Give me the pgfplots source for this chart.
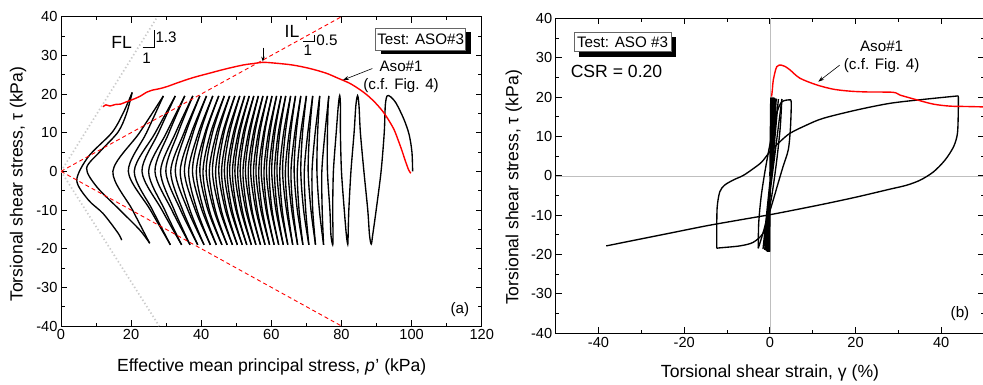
\documentclass[border=0pt]{standalone}
\usepackage{pgfplots}
\pgfplotsset{compat=1.18}
\usepackage{fontspec}
\setmainfont{Liberation Sans}
\usetikzlibrary{shadows,arrows.meta}
\newcommand\tkf{\fontsize{14.6}{16}\selectfont}
\newcommand\lbf{\fontsize{17.6}{20}\selectfont}
\newcommand\anf{\fontsize{15.2}{17}\selectfont}
\begin{document}
\begin{tikzpicture}
\path[use as bounding box] (0pt,0pt) rectangle (983pt,384pt);
\pgfplotsset{
  myax/.style={scale only axis, anchor=south west,
    ymin=-40, ymax=40, ytick={-40,-30,...,40},
    minor x tick num=1, minor y tick num=1,
    major tick length=6pt, minor tick length=3.5pt,
    every tick/.style={black, line width=0.9pt},
    axis line style={line width=1pt},
    tick label style={font=\tkf},
    /pgf/number format/assume math mode=true},
  lp/.style={black, line width=1.35pt, smooth},
}
% ---------------- Panel (a)
\begin{axis}[myax, at={(61pt,58pt)}, width=420.7pt, height=309.3pt,
  xmin=0, xmax=120, xtick={0,20,...,120}]
\addplot[gray!40, line width=1.7pt, dash pattern=on 1.4pt off 2.4pt] coordinates {(0,0) (27.5,40)};
\addplot[gray!40, line width=1.7pt, dash pattern=on 1.4pt off 2.4pt] coordinates {(0,0) (28,-40)};
\addplot[lp] coordinates {(100.3,0) (100.1,5) (99.3,9.5) (97.8,13.5) (95.6,17.6) (94.0,19.3) (93.0,19.5) (92.5,17) (92.2,10) (91.3,0) (89.9,-10) (88.9,-16.5) (88.5,-18.8) (88.0,-16.5) (87.5,-10) (86.4,0) (85.4,10) (85.0,17) (84.6,19.6) (84.1,17) (83.6,10) (82.7,0) (82.1,-10) (81.9,-16.5) (81.8,-18.9) (81.4,-16.5) (80.8,-10) (80.0,0) (79.7,10) (79.7,17) (79.5,19.6) (79.1,17) (78.5,10) (77.7,0) (77.5,-10) (77.6,-16.5) (77.5,-19) (77.0,-16.5) (76.7,-10) (76.0,0) (76.0,10) (76.2,17) (76.4,19.5)};
\addplot[lp] coordinates {(76.4,19.5) (75.3,10) (74.4,0) (74.5,-10) (74.9,-19)};
\addplot[lp] coordinates {(74.9,-19) (73.7,-10) (73.0,0) (73.2,10) (73.8,19.5)};
\addplot[lp] coordinates {(73.8,19.5) (72.5,10) (71.6,0) (71.8,-10) (72.6,-19)};
\addplot[lp] coordinates {(72.6,-19) (71.3,-10) (70.5,0) (70.9,10) (71.8,19.5)};
\addplot[lp] coordinates {(71.8,19.5) (70.4,10) (69.4,0) (69.8,-10) (70.7,-19)};
\addplot[lp] coordinates {(70.7,-19) (69.2,-10) (68.4,0) (68.9,10) (70.0,19.5)};
\addplot[lp] coordinates {(70.0,19.5) (68.4,10) (67.4,0) (67.9,-10) (69.0,-19)};
\addplot[lp] coordinates {(69.0,-19) (67.4,-10) (66.5,0) (67.1,10) (68.4,19.5)};
\addplot[lp] coordinates {(68.4,19.5) (66.7,10) (65.6,0) (66.2,-10) (67.5,-19)};
\addplot[lp] coordinates {(67.5,-19) (65.8,-10) (64.8,0) (65.5,10) (66.9,19.5)};
\addplot[lp] coordinates {(66.9,19.5) (65.1,10) (64.0,0) (64.7,-10) (66.1,-19)};
\addplot[lp] coordinates {(66.1,-19) (64.3,-10) (63.2,0) (64.0,10) (65.5,19.5)};
\addplot[lp] coordinates {(65.5,19.5) (63.5,10) (62.4,0) (63.1,-10) (64.7,-19)};
\addplot[lp] coordinates {(64.7,-19) (62.7,-10) (61.6,0) (62.4,10) (64.1,19.5)};
\addplot[lp] coordinates {(64.1,19.5) (62.0,10) (60.9,0) (61.7,-10) (63.4,-19)};
\addplot[lp] coordinates {(63.4,-19) (61.3,-10) (60.1,0) (61.0,10) (62.8,19.5)};
\addplot[lp] coordinates {(62.8,19.5) (60.6,10) (59.4,0) (60.2,-10) (62.1,-19)};
\addplot[lp] coordinates {(62.1,-19) (59.9,-10) (58.6,0) (59.6,10) (61.5,19.5)};
\addplot[lp] coordinates {(61.5,19.5) (59.2,10) (57.9,0) (58.8,-10) (60.8,-19)};
\addplot[lp] coordinates {(60.8,-19) (58.5,-10) (57.1,0) (58.1,10) (60.2,19.5)};
\addplot[lp] coordinates {(60.2,19.5) (57.8,10) (56.4,0) (57.4,-10) (59.5,-19)};
\addplot[lp] coordinates {(59.5,-19) (57.0,-10) (55.6,0) (56.7,10) (58.9,19.5)};
\addplot[lp] coordinates {(58.9,19.5) (56.3,10) (54.9,0) (56.0,-10) (58.2,-19)};
\addplot[lp] coordinates {(58.2,-19) (55.6,-10) (54.1,0) (55.3,10) (57.6,19.5)};
\addplot[lp] coordinates {(57.6,19.5) (54.9,10) (53.4,0) (54.5,-10) (56.9,-19)};
\addplot[lp] coordinates {(56.9,-19) (54.2,-10) (52.6,0) (53.9,10) (56.3,19.5)};
\addplot[lp] coordinates {(56.3,19.5) (53.5,10) (51.9,0) (53.1,-10) (55.6,-19)};
\addplot[lp] coordinates {(55.6,-19) (52.7,-10) (51.1,0) (52.4,10) (55.0,19.5)};
\addplot[lp] coordinates {(55.0,19.5) (52.0,10) (50.4,0) (51.7,-10) (54.3,-19)};
\addplot[lp] coordinates {(54.3,-19) (51.3,-10) (49.6,0) (51.0,10) (53.7,19.5)};
\addplot[lp] coordinates {(53.7,19.5) (50.6,10) (48.9,0) (50.2,-10) (53.0,-19)};
\addplot[lp] coordinates {(53.0,-19) (49.9,-10) (48.1,0) (49.6,10) (52.4,19.5)};
\addplot[lp] coordinates {(52.4,19.5) (49.2,10) (47.4,0) (48.8,-10) (51.7,-19)};
\addplot[lp] coordinates {(51.7,-19) (48.4,-10) (46.6,0) (48.1,10) (51.0,19.5)};
\addplot[lp] coordinates {(51.0,19.5) (47.6,10) (45.8,0) (47.3,-10) (50.3,-19)};
\addplot[lp] coordinates {(50.3,-19) (46.9,-10) (45.0,0) (46.5,10) (49.6,19.5)};
\addplot[lp] coordinates {(49.6,19.5) (46.1,10) (44.1,0) (45.7,-10) (48.9,-19)};
\addplot[lp] coordinates {(48.9,-19) (45.3,-10) (43.2,0) (44.9,10) (48.1,19.5)};
\addplot[lp] coordinates {(48.1,19.5) (44.4,10) (42.3,0) (44.0,-10) (47.4,-19)};
\addplot[lp] coordinates {(47.4,-19) (43.6,-10) (41.4,0) (43.2,10) (46.6,19.5)};
\addplot[lp] coordinates {(46.6,19.5) (42.7,10) (40.5,0) (42.3,-10) (45.9,-19)};
\addplot[lp] coordinates {(45.9,-19) (41.9,-10) (39.6,0) (41.4,10) (45.0,19.5)};
\addplot[lp] coordinates {(45.0,19.5) (41.1,10) (38.6,0) (40.7,-10) (44.3,-19)};
\addplot[lp] coordinates {(44.3,-19) (40.2,-10) (37.5,0) (39.7,10) (43.3,19.5)};
\addplot[lp] coordinates {(43.3,19.5) (39.2,10) (36.4,0) (38.8,-10) (42.6,-19)};
\addplot[lp] coordinates {(42.6,-19) (38.3,-10) (35.2,0) (37.7,10) (41.5,19.5)};
\addplot[lp] coordinates {(41.5,19.5) (37.2,10) (34.0,0) (36.8,-10) (40.8,-19)};
\addplot[lp] coordinates {(40.8,-19) (36.2,-10) (32.6,0) (35.6,10) (39.6,19.5)};
\addplot[lp] coordinates {(39.6,19.5) (35.1,10) (31.3,0) (34.7,-10) (39.0,-19)};
\addplot[lp] coordinates {(39.0,-19) (34.1,-10) (29.9,0) (33.4,10) (37.6,19.5)};
\addplot[lp] coordinates {(37.6,19.5) (32.7,10) (28.4,0) (32.3,-10) (36.8,-19)};
\addplot[lp] coordinates {(36.8,-19) (31.6,-10) (26.8,0) (30.8,10) (35.3,19.5)};
\addplot[lp] coordinates {(35.3,19.5) (30.1,10) (25.0,0) (29.6,-10) (34.4,-19)};
\addplot[lp] coordinates {(34.4,-19) (28.8,-10) (23.1,0) (27.8,10) (32.6,19.5)};
\addplot[lp] coordinates {(32.6,19.5) (26.9,10) (20.9,0) (26.1,-10) (31.2,-19)};
\addplot[lp] coordinates {(31.2,-19) (25.5,-10) (19.2,0) (24.4,10) (29.2,19.5)};
\addplot[lp] coordinates {(29.2,19.5) (22.4,10) (14.8,0) (20.4,-10) (25.3,-18.6)};
\addplot[lp] coordinates {(25.3,-18.6) (22.5,-15.2) (16.8,-10) (10.2,-4) (7.3,0.8) (11.1,5.1) (16.3,10.2) (18.7,15) (20.3,20.4)};
\addplot[lp] coordinates {(20.3,20.4) (17.7,15) (14.5,10) (7.8,3.8) (4.5,-2.3) (7.8,-7.4) (12.0,-10.9) (16.3,-16) (17.3,-17.8)};
% IL lines
\addplot[red, line width=0.9pt, dash pattern=on 4pt off 3pt] coordinates {(0,0) (80,40)};
\addplot[red, line width=0.9pt, dash pattern=on 4pt off 3pt] coordinates {(0,0) (80,-40)};
% Aso#1 monotonic
\addplot[red, line width=1.4pt, smooth] coordinates {(12.0,16.7) (12.8,17.2) (14,16.9) (15.5,17.3) (17,17.4) (18.7,18.0) (20.5,18.6) (22.5,19.4) (24.5,20.5) (26,21.0) (28.2,21.4) (30.5,22.0) (32.9,22.8) (37.5,24.2) (42.4,25.4) (47,26.5) (51.9,27.5) (55,27.9) (57.6,28.2) (61,28.0) (66.1,27.5) (71,26.6) (75.6,25.4) (79,24.1) (82.3,22.8) (85,21.3) (87.5,19.6) (89.8,17.6) (91.8,15.5) (93.5,13.2) (95.0,10.8) (96.0,8.5) (97.2,5.5) (98.3,2.5) (99.2,0.3) (99.8,-0.5)};
% annotations
\draw[line width=0.6pt] (axis cs:23.3,32.2) -- (axis cs:26.5,32.2) -- (axis cs:26.5,36.5);
\node[font=\anf, anchor=west, inner sep=0pt] at (axis cs:26.9,34.6) {1.3};
\node[font=\anf, inner sep=0pt] at (axis cs:24.4,29.3) {1};
\node[font=\lbf, inner sep=0pt] at (axis cs:17.3,33.3) {FL};
\draw[line width=0.6pt] (axis cs:69.0,33.7) -- (axis cs:72.3,33.7) -- (axis cs:72.3,35.3);
\node[font=\anf, anchor=west, inner sep=0pt] at (axis cs:72.8,34.0) {0.5};
\node[font=\anf, inner sep=0pt] at (axis cs:70.4,31.4) {1};
\node[font=\lbf, inner sep=0pt] at (axis cs:65.9,36.2) {IL};
\draw[line width=0.6pt, -{Stealth[length=5pt,width=3.5pt]}] (axis cs:57.6,32.0) -- (axis cs:57.6,28.4);
\draw[line width=0.6pt, -{Stealth[length=6pt,width=4pt]}] (axis cs:88.8,26.6) -- (axis cs:80.4,23.6);
\node[font=\anf, inner sep=0pt] at (axis cs:97.0,27.1) {Aso\#1};
\node[font=\anf, inner sep=0pt] at (axis cs:97.0,22.1) {(c.f. Fig. 4)};
\node[font=\anf, inner sep=0pt] at (axis cs:113.8,-35.7) {(a)};
\node[font=\anf, draw=black!60, line width=0.8pt, fill=white, minimum width=90pt, minimum height=21.7pt, inner sep=0pt,
  drop shadow={fill=black, opacity=1, shadow xshift=5pt, shadow yshift=-4pt}] at (axis cs:102.6,34.2) {Test: ASO\#3};
\end{axis}
% ---------------- Panel (b)
\begin{axis}[myax, at={(555.7pt,50.7pt)}, width=428.3pt, height=315pt,
  xmin=-50, xmax=50, xtick={-40,-20,0,20,40}]
\addplot[gray!50, line width=0.6pt] coordinates {(0,-40) (0,40)};
\addplot[gray!50, line width=0.6pt] coordinates {(-50,0) (50,0)};
\addplot[black, line width=1.3pt] coordinates {(0,0) (0.2,19.8) (-0.05,-19.2) (0.25,19.9) (-0.1,-19.3) (0.3,19.8) (-0.15,-19.2) (0.35,19.9) (-0.2,-19.3) (0.4,19.8) (-0.25,-19.2) (0.5,19.9) (-0.3,-19.3) (0.6,19.8) (-0.35,-19.2) (0.7,19.9) (-0.4,-19.3) (0.8,19.8) (-0.5,-19.2) (0.9,19.9) (-0.6,-19.3) (1.0,19.8) (-0.7,-19.1) (1.2,19.7) (-0.9,-19.0) (1.5,19.6) (-1.2,-18.8) (2.0,19.5) (-1.6,-18.6) (2.8,19.5)};
\addplot[lp] coordinates {(2.8,19.5) (2.4,12) (1.5,3) (0.3,-6) (-1.2,-13) (-2.7,-18.4)};
\addplot[lp] coordinates {(-2.7,-18.4) (-2.6,-12) (-2.0,-5) (-1.0,2) (0.2,9) (1.6,15.9) (2.8,18.8) (4.7,19.3)};
\addplot[lp] coordinates {(4.7,19.3) (5.0,18.5) (4.8,12) (4.3,6.6) (3.1,2.4) (1.95,-1.8) (0.8,-6.1) (-0.4,-10.4) (-1.6,-14.6) (-3.9,-16.9) (-7.0,-17.8) (-11.7,-18.3) (-12.4,-18.4)};
\addplot[lp] coordinates {(-12.4,-18.4) (-12.4,-14) (-12.3,-8) (-11.7,-4.1) (-10.6,-2.4) (-8.6,-1.1) (-6.2,0.1) (-3.9,1.8) (-1.9,3.5) (0,6.1) (2.3,8.6) (4.7,10.8) (8.6,12.9) (12.45,14.6) (20.2,16.7) (28,18.4) (35.8,19.4) (44,20.3)};
\addplot[lp] coordinates {(44,20.3) (44,16.7) (43.8,10.8) (42.9,7.4) (40.9,4.0) (38.2,1.0) (35.1,-1.1) (31.9,-2.4) (28,-3.4) (20.2,-5.4) (12.5,-7.2) (4.7,-8.9) (-0.1,-9.9) (-7,-11.2) (-14.8,-12.7) (-22.6,-14.4) (-30.4,-16.1) (-38.2,-17.8)};
\addplot[red, line width=1.4pt, smooth] coordinates {(0.4,20.1) (0.6,22) (0.8,24.3) (1.6,27.7) (2.7,28.1) (3.5,27.8) (4.7,26.9) (7.0,24.8) (10.9,23.1) (14.8,22.0) (18.7,21.5) (22.6,21.3) (28.8,21.2) (30.4,20.5) (34.3,19.3) (38.2,18.2) (42.0,17.7) (46,17.6) (50,17.5)};
\node[font=\anf, draw=black!60, line width=0.8pt, fill=white, minimum width=97pt, minimum height=19.4pt, inner sep=0pt,
  drop shadow={fill=black, opacity=1, shadow xshift=5pt, shadow yshift=-5pt}] at (axis cs:-34.4,34.0) {Test: ASO \#3};
\node[font=\lbf, inner sep=0pt] at (axis cs:-35.8,26.6) {CSR = 0.20};
\node[font=\anf, inner sep=0pt] at (axis cs:26.1,33.0) {Aso\#1};
\node[font=\anf, inner sep=0pt] at (axis cs:26.1,28.0) {(c.f. Fig. 4)};
\draw[line width=0.6pt, -{Stealth[length=6pt,width=4pt]}] (axis cs:16.3,28.1) -- (axis cs:11.3,23.9);
\node[font=\anf, inner sep=0pt] at (axis cs:44.4,-34.9) {(b)};
\end{axis}
% axis labels
\node[font=\lbf, anchor=base] at (271.7pt,13pt) {Effective mean principal stress, \textit{p}\kern0.5pt' (kPa)};
\node[font=\lbf, anchor=base, rotate=90] at (22.7pt,199.8pt) {Torsional shear stress, τ (kPa)};
\node[font=\lbf, anchor=base] at (770pt,7pt) {Torsional shear strain, γ (\%)};
\node[font=\lbf, anchor=base, rotate=90] at (518.3pt,196.5pt) {Torsional shear stress, τ (kPa)};
\end{tikzpicture}
\end{document}
